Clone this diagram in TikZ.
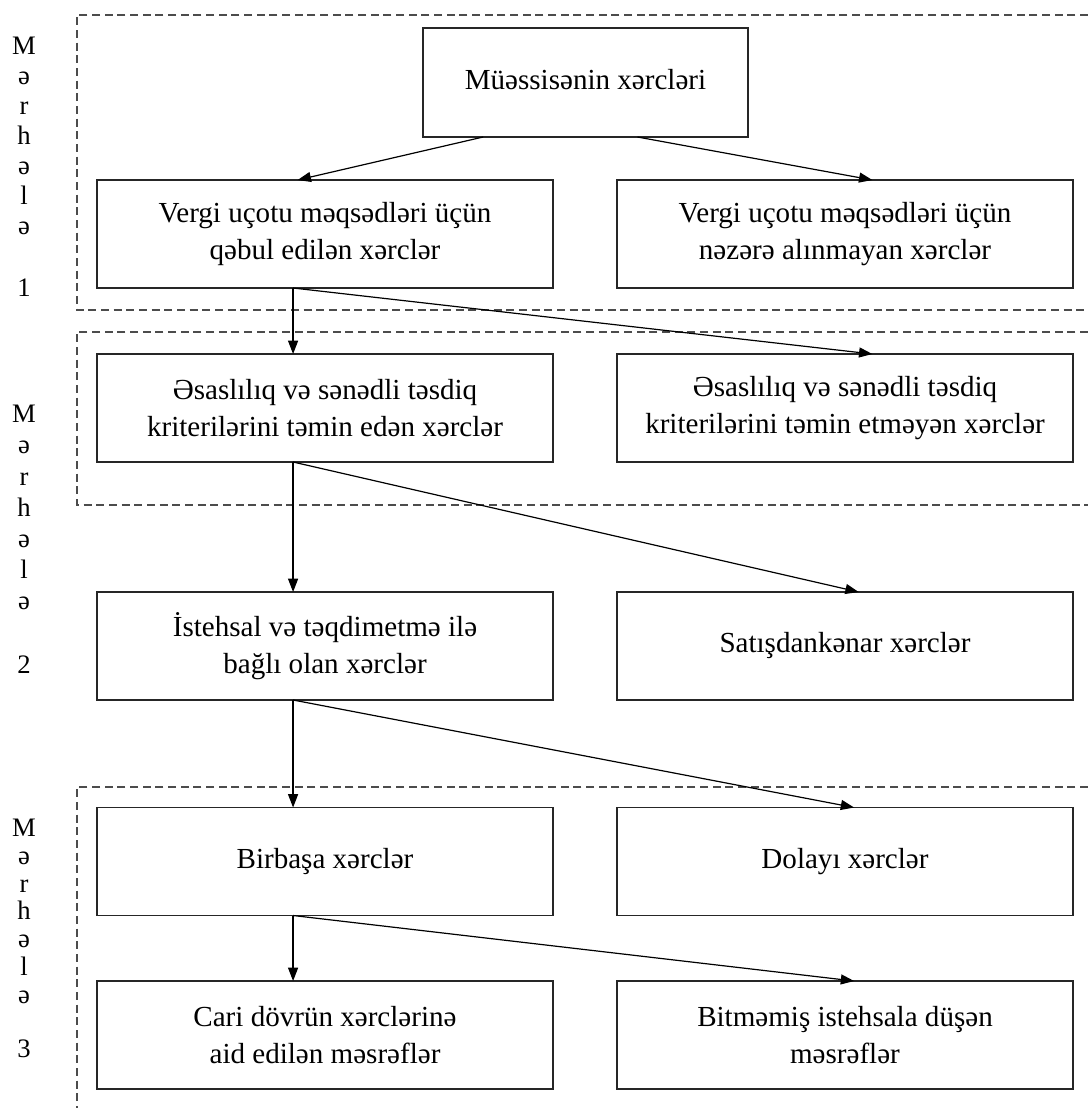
\documentclass[tikz,border=0pt]{standalone}
\usepackage{fontspec}
\setmainfont{Liberation Serif}
\usetikzlibrary{calc,arrows.meta}
\begin{document}
\begin{tikzpicture}[x=0.75pt,y=-0.75pt,
  box/.style={draw=black!85, line width=1.1pt, rectangle, inner sep=0pt, outer sep=0pt,
    minimum width=342pt, minimum height=81pt, align=center,
    font=\fontsize{21.8}{27.5}\selectfont},
  arr/.style={-{Triangle[length=10pt,width=7.5pt]}, line width=0.9pt},
  stagebox/.style={dash pattern=on 6pt off 3.5pt, line width=0.9pt, draw=black!70},
  stagelbl/.style={anchor=north, inner sep=0pt, align=center}]
\useasboundingbox (0,0) rectangle (1088,1108);
% stage frames (open on the right)
\draw[stagebox] (1088,15) -- (77,15) -- (77,310) -- (1088,310);
\draw[stagebox] (1088,332) -- (77,332) -- (77,505) -- (1088,505);
\draw[stagebox] (1088,787) -- (77,787) -- (77,1108);
% stage labels
\node[stagelbl, font=\fontsize{20}{22.5}\selectfont] (s1) at (24,37) {M\\ə\\r\\h\\ə\\l\\ə\\[24pt]1};
\node[stagelbl, font=\fontsize{20}{23.4}\selectfont] (s2) at (24,405) {M\\ə\\r\\h\\ə\\l\\ə\\[24.5pt]2};
\node[stagelbl, font=\fontsize{20}{20.8}\selectfont] (s3) at (24,819) {M\\ə\\r\\h\\ə\\l\\ə\\[20pt]3};
% boxes
\node[box, minimum width=243.75pt, minimum height=81.75pt] (top) at (585.5,82.5) {\raisebox{5pt}{Müəssisənin xərcləri}};
\node[box] (r1l) at (325,234) {Vergi uçotu məqsədləri üçün\\qəbul edilən xərclər};
\node[box] (r1r) at (845,234) {Vergi uçotu məqsədləri üçün\\nəzərə alınmayan xərclər};
\node[box] (r2l) at (325,408) {Əsaslılıq və sənədli təsdiq\\kriterilərini təmin edən xərclər};
\node[box] (r2r) at (845,408) {Əsaslılıq və sənədli təsdiq\\kriterilərini təmin etməyən xərclər};
\node[box] (r3l) at (325,646) {İstehsal və təqdimetmə ilə\\bağlı olan xərclər};
\node[box] (r3r) at (845,646) {\raisebox{5pt}{Satışdankənar xərclər}};
\node[box] (r4l) at (325,861.5) {\raisebox{3pt}{Birbaşa xərclər}};
\node[box] (r4r) at (845,861.5) {\raisebox{3pt}{Dolayı xərclər}};
\node[box] (r5l) at (325,1035) {Cari dövrün xərclərinə\\aid edilən məsrəflər};
\node[box] (r5r) at (845,1035) {Bitməmiş istehsala düşən\\məsrəflər};
% arrows
\draw[arr] ($(top.south west)!0.185!(top.south east)$) -- ($(r1l.north west)!0.44!(r1l.north east)$);
\draw[arr] ($(top.south west)!0.66!(top.south east)$) -- ($(r1r.north west)!0.56!(r1r.north east)$);
\draw[arr] ($(r1l.south west)!0.43!(r1l.south east)$) -- ($(r2l.north west)!0.43!(r2l.north east)$);
\draw[arr] ($(r1l.south west)!0.43!(r1l.south east)$) -- ($(r2r.north west)!0.56!(r2r.north east)$);
\draw[arr] ($(r2l.south west)!0.43!(r2l.south east)$) -- ($(r3l.north west)!0.43!(r3l.north east)$);
\draw[arr] ($(r2l.south west)!0.43!(r2l.south east)$) -- ($(r3r.north west)!0.53!(r3r.north east)$);
\draw[arr] ($(r3l.south west)!0.43!(r3l.south east)$) -- ($(r4l.north west)!0.43!(r4l.north east)$);
\draw[arr] ($(r3l.south west)!0.43!(r3l.south east)$) -- ($(r4r.north west)!0.52!(r4r.north east)$);
\draw[arr] ($(r4l.south west)!0.43!(r4l.south east)$) -- ($(r5l.north west)!0.43!(r5l.north east)$);
\draw[arr] ($(r4l.south west)!0.43!(r4l.south east)$) -- ($(r5r.north west)!0.52!(r5r.north east)$);
\end{tikzpicture}
\end{document}
